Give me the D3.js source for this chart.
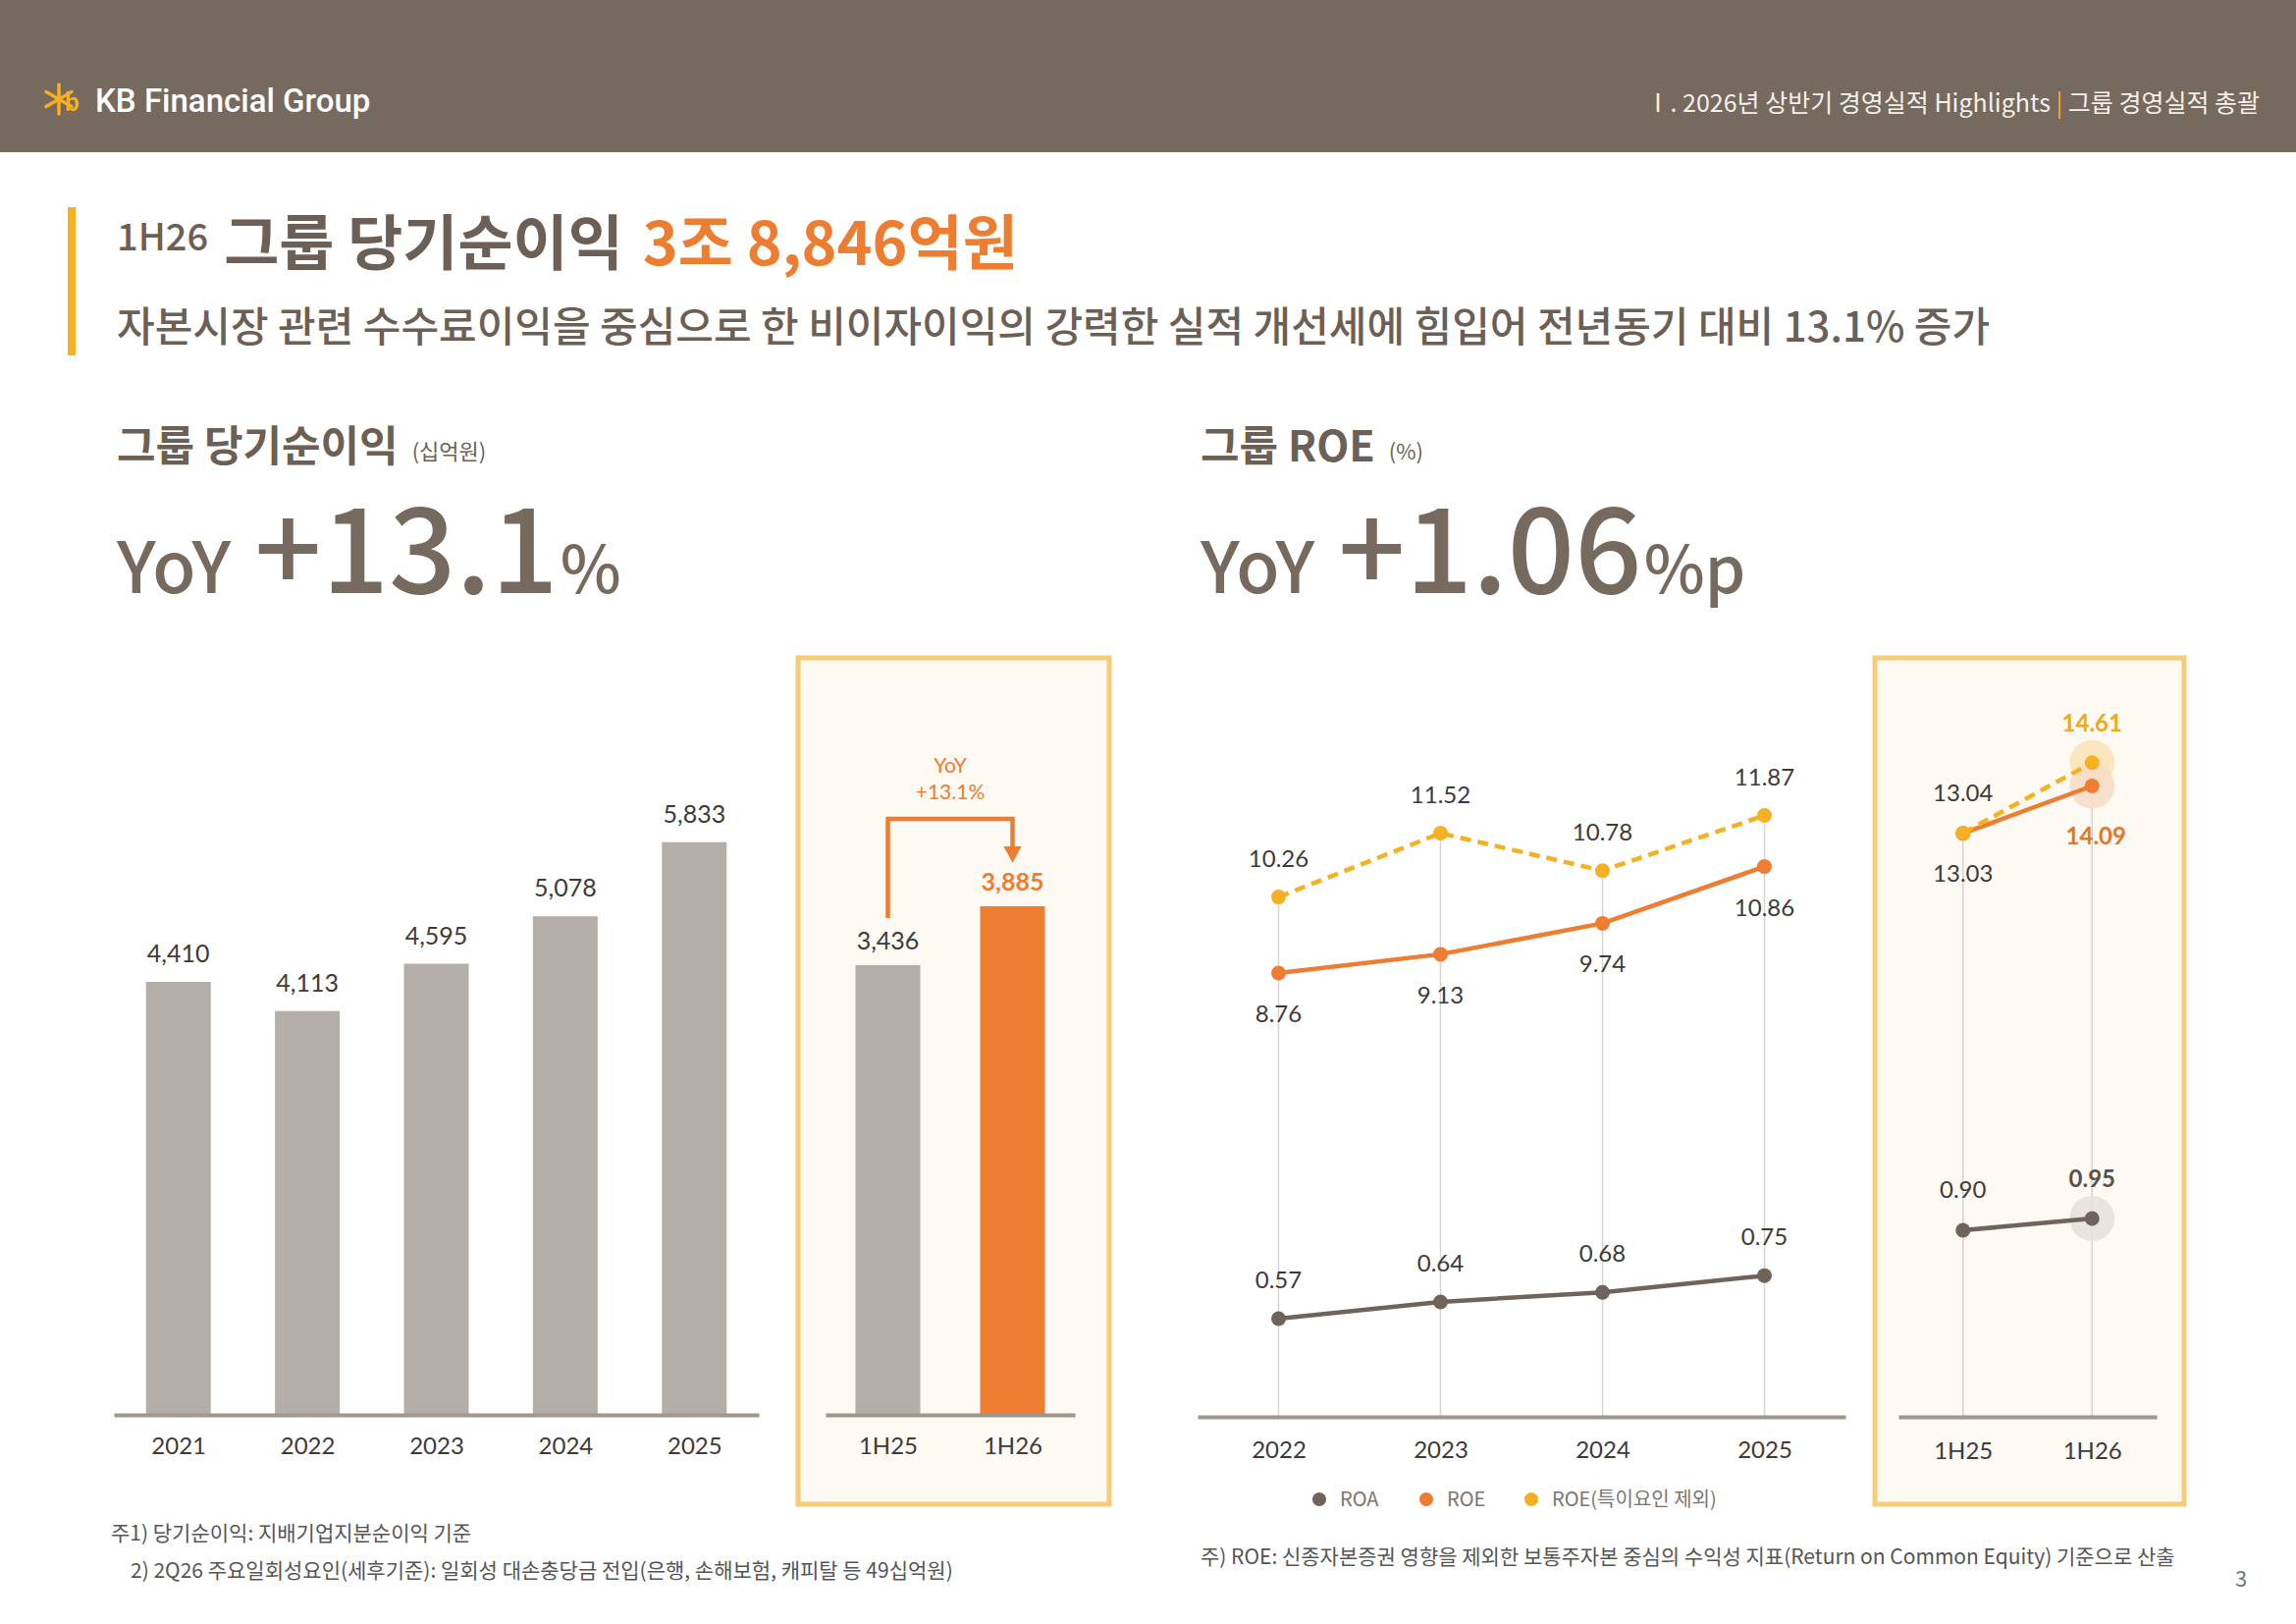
<!DOCTYPE html>
<html>
<head>
<meta charset="utf-8">
<script src="https://cdn.jsdelivr.net/npm/d3@7"></script>
<style>
  body { margin: 0; background: #fff; }
  svg { display: block; }
  text { font-family: "Noto Sans CJK KR", "Noto Sans", sans-serif; }
  .num { font-family: Lato, "Noto Sans", sans-serif; }
</style>
</head>
<body>
<div id="chart"></div>
<script>
// data
var years = ["2021", "2022", "2023", "2024", "2025"]
var profit = [4410, 4113, 4595, 5078, 5833]
var halves = ["1H25", "1H26"]
var halfProfit = [3436, 3885]

var roeYears = ["2022", "2023", "2024", "2025"]
var roa = [0.57, 0.64, 0.68, 0.75]
var roe = [8.76, 9.13, 9.74, 10.86]
var roeAdj = [10.26, 11.52, 10.78, 11.87]
var halfRoa = [0.90, 0.95]
var halfRoe = [13.03, 14.09]
var halfRoeAdj = [13.04, 14.61]

var legendNames = ["ROA", "ROE", "ROE(특이요인 제외)"]

var width = 2339
    height = 1654

var brown = "#76695d"
    gray = "#b3aea8"
    orange = "#ed7d31"
    yellow = "#f5b122"
    roaColor = "#6f635a"
    axisColor = "#9f968e"
    labelColor = "#3d3a38"
    boxFill = "#fdf9f3"
    boxStroke = "#f8cb75"

var svg = d3.select("#chart").append("svg")
  .attr("width", width)
  .attr("height", height)

// place a text right after another one
function after(node, gap) {
  return +node.attr("x") + node.node().getComputedTextLength() + gap
}

// ---- header band ----
svg.append("rect").attr("x", 0).attr("y", 0).attr("width", width).attr("height", 155).attr("fill", brown)

// KB star logo (rough)
var logo = svg.append("g").attr("transform", "translate(60,101)")
;[0, 60, 120].forEach(function(a) {
  logo.append("line")
    .attr("x1", -15).attr("y1", 0).attr("x2", 15).attr("y2", 0)
    .attr("transform", "rotate(" + (a + 90) + ")")
    .attr("stroke", yellow).attr("stroke-width", 3.5).attr("stroke-linecap", "round")
})
logo.append("text").attr("x", 6).attr("y", 12).text("b")
  .attr("fill", yellow).style("font-size", "26px").style("font-weight", 700).style("font-family", "Lato")

svg.append("text").attr("x", 97).attr("y", 114)
  .text("KB Financial Group")
  .attr("fill", "#fff").style("font-size", "33px").style("font-weight", 500).style("font-family", "Roboto")

var hdr = svg.append("text").attr("x", 2302).attr("y", 114).attr("text-anchor", "end")
  .attr("fill", "#f4f0ea").style("font-size", "25px")
hdr.append("tspan").text("Ⅰ. 2026년 상반기 경영실적 Highlights ")
hdr.append("tspan").text(" | ").attr("fill", yellow)
hdr.append("tspan").text(" 그룹 경영실적 총괄")

// ---- title block ----
svg.append("rect").attr("x", 69).attr("y", 211).attr("width", 8).attr("height", 151).attr("fill", yellow)

var t1 = svg.append("text").attr("x", 119).attr("y", 255).text("1H26")
  .attr("fill", "#6b5f56").style("font-size", "38px").style("font-weight", 500)
var t2 = svg.append("text").attr("x", after(t1, 16)).attr("y", 270).text("그룹 당기순이익")
  .attr("fill", "#6b5f56").style("font-size", "61px").style("font-weight", 700)
svg.append("text").attr("x", after(t2, 20)).attr("y", 270).text("3조 8,846억원")
  .attr("fill", orange).style("font-size", "61px").style("font-weight", 700)

svg.append("text").attr("x", 119).attr("y", 348)
  .text("자본시장 관련 수수료이익을 중심으로 한 비이자이익의 강력한 실적 개선세에 힘입어 전년동기 대비 13.1% 증가")
  .attr("fill", "#6b5f56").style("font-size", "42px").style("font-weight", 500)

// ---- section headers ----
function sectionHead(x, main, unit, big, suffix) {
  var h = svg.append("text").attr("x", x).attr("y", 470).text(main)
    .attr("fill", "#6b5f56").style("font-size", "43px").style("font-weight", 700)
  svg.append("text").attr("x", after(h, 14)).attr("y", 468).text(unit)
    .attr("fill", "#6b5f56").style("font-size", "22px")
  var a = svg.append("text").attr("x", x).attr("y", 604).text("YoY")
    .attr("fill", brown).style("font-size", "72px").style("font-weight", 500)
  var b = svg.append("text").attr("x", after(a, 24)).attr("y", 604).text(big)
    .attr("fill", brown).style("font-size", "120px").style("font-weight", 500)
  svg.append("text").attr("x", after(b, 2)).attr("y", 604).text(suffix)
    .attr("fill", brown).style("font-size", "66px").style("font-weight", 500)
}
sectionHead(119, "그룹 당기순이익", "(십억원)", "+13.1", "%")
sectionHead(1223, "그룹 ROE", "(%)", "+1.06", "%p")

// ---- highlight boxes ----
svg.append("rect").attr("x", 813).attr("y", 670).attr("width", 317).attr("height", 862)
  .attr("fill", boxFill).attr("stroke", boxStroke).attr("stroke-width", 5)
svg.append("rect").attr("x", 1910).attr("y", 670).attr("width", 315).attr("height", 862)
  .attr("fill", boxFill).attr("stroke", boxStroke).attr("stroke-width", 5)

// ---- net income bars ----
var x = d3.scalePoint().domain(years).range([116, 773]).padding(0.5)
var y = d3.scaleLinear().domain([0, 6000]).range([1441, 841])
var xh = d3.scalePoint().domain(halves).range([841, 1095]).padding(0.5)
var yh = d3.scaleLinear().domain([0, 4000]).range([1441, 1441 - 533.3])
var barW = 66

function bottomAxis(scale, ypos, fontSize, pad) {
  var g = svg.append("g").attr("transform", "translate(0," + ypos + ")")
    .call(d3.axisBottom(scale).tickSize(0).tickSizeOuter(0).tickPadding(pad))
  g.select(".domain").attr("stroke", axisColor).attr("stroke-width", 4)
  g.selectAll("text").attr("class", "num").attr("fill", labelColor)
    .style("font-size", fontSize + "px").style("font-family", "Lato")
  return g
}

svg.selectAll(".bar").data(profit).enter().append("rect")
  .attr("x", function(d, i) { return x(years[i]) - barW / 2 })
  .attr("y", function(d) { return y(d) })
  .attr("width", barW)
  .attr("height", function(d) { return y(0) - y(d) })
  .attr("fill", gray)
svg.selectAll(".barlab").data(profit).enter().append("text")
  .attr("class", "num")
  .attr("x", function(d, i) { return x(years[i]) })
  .attr("y", function(d) { return y(d) - 20 })
  .attr("text-anchor", "middle").attr("fill", labelColor).style("font-size", "25px")
  .text(d3.format(","))
bottomAxis(x, 1441, 24, 23)

svg.selectAll(".hbar").data(halfProfit).enter().append("rect")
  .attr("x", function(d, i) { return xh(halves[i]) - barW / 2 })
  .attr("y", function(d) { return yh(d) })
  .attr("width", barW)
  .attr("height", function(d) { return yh(0) - yh(d) })
  .attr("fill", function(d, i) { return i == 1 ? orange : gray })
svg.selectAll(".hbarlab").data(halfProfit).enter().append("text")
  .attr("class", "num")
  .attr("x", function(d, i) { return xh(halves[i]) })
  .attr("y", function(d) { return yh(d) - 16 })
  .attr("text-anchor", "middle")
  .attr("fill", function(d, i) { return i == 1 ? orange : labelColor })
  .style("font-size", "25px").style("font-weight", function(d, i) { return i == 1 ? 700 : 400 })
  .text(d3.format(","))
bottomAxis(xh, 1441, 24, 23)

// YoY arrow between the half-year bars
var ax0 = xh(halves[0]), ax1 = xh(halves[1])
svg.append("path")
  .attr("d", "M" + ax0 + "," + (yh(halfProfit[0]) - 48) + "V834H" + ax1 + "V864")
  .attr("fill", "none").attr("stroke", orange).attr("stroke-width", 4.5)
svg.append("path")
  .attr("d", "M" + (ax1 - 9) + ",862L" + (ax1 + 9) + ",862L" + ax1 + ",879Z")
  .attr("fill", orange)
svg.append("text").attr("x", (ax0 + ax1) / 2).attr("y", 787).attr("text-anchor", "middle")
  .attr("class", "num").attr("fill", orange).style("font-size", "21px").text("YoY")
svg.append("text").attr("x", (ax0 + ax1) / 2).attr("y", 814).attr("text-anchor", "middle")
  .attr("class", "num").attr("fill", orange).style("font-size", "21px").text("+13.1%")

// ---- ROE / ROA lines ----
var xr = d3.scalePoint().domain(roeYears).range([1220, 1880]).padding(0.5)
var yRoe = d3.scaleLinear().domain([0, 12]).range([1443, 1443 - 12 * 51.6])
var yRoa = d3.scaleLinear().domain([0.5, 0.8]).range([1360, 1287])
var xb = d3.scalePoint().domain(halves).range([1934, 2197]).padding(0.5)
var yRoeH = d3.scaleLinear().domain([0, 15]).range([1443, 1443 - 15 * 45.6])
var yRoaH = d3.scaleLinear().domain([0.85, 1.0]).range([1265, 1229])

function grid(xs, cats, topVals, ys) {
  svg.selectAll(null).data(cats).enter().append("line")
    .attr("x1", function(d) { return xs(d) }).attr("x2", function(d) { return xs(d) })
    .attr("y1", function(d, i) { return ys(topVals[i]) }).attr("y2", 1443)
    .attr("stroke", "#d6d3d0").attr("stroke-width", 1.5)
}
grid(xr, roeYears, roeAdj, yRoe)
grid(xb, halves, halfRoeAdj, yRoeH)

// halos on the latest half-year points
var halos = [
  { v: halfRoeAdj[1], s: yRoeH, c: "#fce3b6" },
  { v: halfRoe[1], s: yRoeH, c: "#f7dcc6" },
  { v: halfRoa[1], s: yRoaH, c: "#e6e0da" }
]
halos.forEach(function(h) {
  svg.append("circle").attr("cx", xb(halves[1])).attr("cy", h.s(h.v)).attr("r", 23)
    .attr("fill", h.c).attr("opacity", 0.85)
})

function series(xs, cats, vals, ys, color, dashed) {
  var line = d3.line().x(function(d, i) { return xs(cats[i]) }).y(function(d) { return ys(d) })
  svg.append("path").datum(vals).attr("d", line)
    .attr("fill", "none").attr("stroke", color).attr("stroke-width", 4.5)
    .attr("stroke-dasharray", dashed ? "11,7" : null)
  svg.selectAll(null).data(vals).enter().append("circle")
    .attr("cx", function(d, i) { return xs(cats[i]) })
    .attr("cy", function(d) { return ys(d) })
    .attr("r", 7.5).attr("fill", color)
}
series(xr, roeYears, roa, yRoa, roaColor, false)
series(xr, roeYears, roe, yRoe, orange, false)
series(xr, roeYears, roeAdj, yRoe, yellow, true)
series(xb, halves, halfRoa, yRoaH, roaColor, false)
series(xb, halves, halfRoe, yRoeH, orange, false)
series(xb, halves, halfRoeAdj, yRoeH, yellow, true)

function labels(xs, cats, vals, ys, dy, color, weight, dx) {
  svg.selectAll(null).data(vals).enter().append("text")
    .attr("class", "num")
    .attr("x", function(d, i) { return xs(cats[i]) + (dx || 0) })
    .attr("y", function(d) { return ys(d) + dy })
    .attr("text-anchor", "middle")
    .attr("fill", color).style("font-size", "24px").style("font-weight", weight)
    .text(d3.format(".2f"))
}
labels(xr, roeYears, roeAdj, yRoe, -31, labelColor, 400)
labels(xr, roeYears, roe, yRoe, 50, labelColor, 400)
labels(xr, roeYears, roa, yRoa, -31, labelColor, 400)

// box labels: first point dark, latest point coloured
labels(xb, halves.slice(0, 1), halfRoeAdj.slice(0, 1), yRoeH, -32, labelColor, 400)
labels(xb, halves.slice(0, 1), halfRoe.slice(0, 1), yRoeH, 49, labelColor, 400)
labels(xb, halves.slice(0, 1), halfRoa.slice(0, 1), yRoaH, -33, labelColor, 400)
labels(xb, halves.slice(1), halfRoeAdj.slice(1), yRoeH, -32, "#f0a820", 700)
labels(xb, halves.slice(1), halfRoe.slice(1), yRoeH, 60, "#e8732c", 700, 4)
labels(xb, halves.slice(1), halfRoa.slice(1), yRoaH, -32, "#5a514b", 700)

bottomAxis(xr, 1443, 24, 25)
bottomAxis(xb, 1443, 24, 26)

// legend
var legendColors = [roaColor, orange, yellow]
var legendX = [1344, 1453, 1560]
legendNames.forEach(function(n, i) {
  svg.append("circle").attr("cx", legendX[i]).attr("cy", 1527).attr("r", 7).attr("fill", legendColors[i])
  svg.append("text").attr("x", legendX[i] + 21).attr("y", 1534).text(n)
    .attr("fill", "#7a7570").style("font-size", "20px")
})

// ---- footnotes ----
svg.append("text").attr("x", 113).attr("y", 1569).text("주1) 당기순이익: 지배기업지분순이익 기준")
  .attr("fill", "#555").style("font-size", "21px")
svg.append("text").attr("x", 133).attr("y", 1607)
  .text("2) 2Q26 주요일회성요인(세후기준): 일회성 대손충당금 전입(은행, 손해보험, 캐피탈 등 49십억원)")
  .attr("fill", "#555").style("font-size", "21px")
svg.append("text").attr("x", 1223).attr("y", 1593)
  .text("주) ROE: 신종자본증권 영향을 제외한 보통주자본 중심의 수익성 지표(Return on Common Equity) 기준으로 산출")
  .attr("fill", "#555").style("font-size", "21px")
svg.append("text").attr("x", 2283).attr("y", 1616).attr("text-anchor", "middle").text("3")
  .attr("fill", "#777").style("font-size", "22px")
</script>
</body>
</html>
